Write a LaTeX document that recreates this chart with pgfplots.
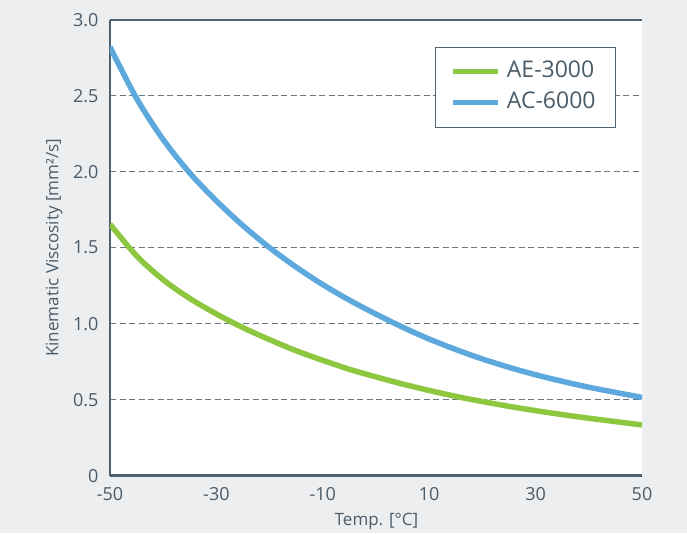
\documentclass[border=0pt]{standalone}
\usepackage{pgfplots}
\pgfplotsset{compat=1.18}
\usepackage{fontspec}
\setmainfont{Open Sans}
\definecolor{bg}{HTML}{EDEEF0}
\definecolor{axiscol}{HTML}{4E6170}
\definecolor{textcol}{HTML}{4B5C69}
\definecolor{gridcol}{HTML}{6A7680}
\definecolor{aegreen}{HTML}{8DC63F}
\definecolor{acblue}{HTML}{5DA9DD}
\begin{document}
\begin{tikzpicture}[x=1pt,y=1pt]
\fill[bg] (0,0) rectangle (687,533);
\path[use as bounding box] (0,0) rectangle (687,533);
\begin{axis}[
  at={(110pt,57.3pt)}, anchor=south west,
  scale only axis, width=532pt, height=456pt,
  xmin=-50, xmax=50, ymin=0, ymax=3,
  axis background/.style={fill=white},
  axis x line*=bottom, axis y line*=left,
  axis line style={draw=axiscol, line width=2.5pt, -},
  xtick={-50,-30,-10,10,30,50},
  xticklabels={-50,-30,-10,10,30,50},
  ytick={0,0.5,1,1.5,2,2.5,3},
  yticklabels={0,0.5,1.0,1.5,2.0,2.5,3.0},
  major tick length=0pt,
  ymajorgrids,
  grid style={gridcol, line width=0.9pt, dash pattern=on 6pt off 3.5pt},
  tick label style={font=\fontsize{18}{20}\selectfont, text=textcol},
  xticklabel style={yshift=-8pt},
  yticklabel style={xshift=-8pt},
  xlabel={Temp. [°C]},
  ylabel={Kinematic Viscosity [mm²/s]},
  label style={font=\fontsize{17}{20}\selectfont, text=textcol},
  xlabel style={at={(axis description cs:0.501,-0.101)}, anchor=center},
  ylabel style={at={(axis description cs:-0.105,0.5)}, anchor=center, rotate=0},
  legend style={at={(axis description cs:0.951,0.941)}, anchor=north east,
    draw=axiscol, line width=0.8pt, fill=white,
    font=\fontsize{23}{27}\selectfont, text=textcol,
    inner xsep=16pt, inner ysep=11pt, row sep=3pt, column sep=2pt,
    nodes={inner xsep=4pt, inner ysep=3pt, text height=16.5pt, text depth=5pt}},
  legend cell align=left,
  legend image code/.code={\draw[#1, line width=5pt] (0pt,0pt) -- (45pt,0pt);},
]
\addplot[aegreen, line width=5.5pt, smooth] coordinates {
(-50,1.655) (-45,1.446) (-40,1.289) (-35,1.166) (-30,1.064) (-25,0.974)
(-20,0.895) (-15,0.822) (-10,0.759) (-5,0.700) (0,0.650) (5,0.603)
(10,0.561) (15,0.522) (20,0.488) (25,0.4565) (30,0.428) (35,0.402)
(40,0.378) (45,0.356) (50,0.334)};
\addlegendentry{AE-3000}
\addplot[acblue, line width=5.5pt, smooth] coordinates {
(-50,2.82) (-45,2.482) (-40,2.211) (-35,1.991) (-30,1.808) (-25,1.645)
(-20,1.500) (-15,1.372) (-10,1.257) (-5,1.155) (0,1.063) (5,0.977)
(10,0.899) (15,0.830) (20,0.768) (25,0.713) (30,0.664) (35,0.621)
(40,0.582) (45,0.548) (50,0.515)};
\addlegendentry{AC-6000}
\draw[axiscol, line width=2.5pt] (rel axis cs:0,1) -- (rel axis cs:1,1);
\end{axis}
\end{tikzpicture}
\end{document}
